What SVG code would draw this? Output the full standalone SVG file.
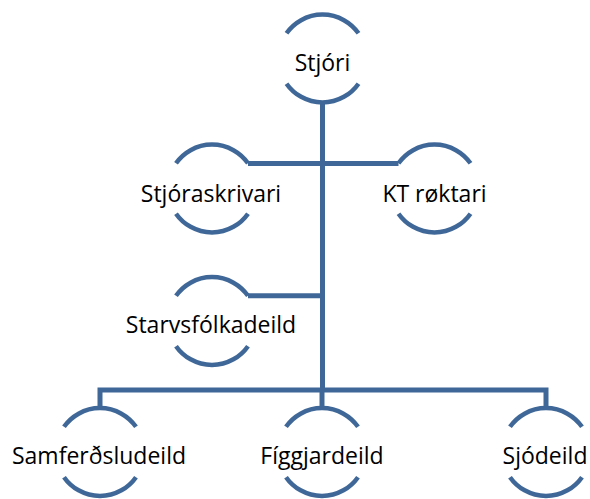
<svg xmlns="http://www.w3.org/2000/svg" width="590" height="499" viewBox="0 0 590 499">
<style>
.arc{fill:none;stroke:#3F6898;stroke-width:4.5}
.ln{fill:none;stroke:#3F6898;stroke-width:5}
text{font-family:"Open Sans","Liberation Sans",sans-serif;font-size:23px;fill:#000;text-anchor:middle}
</style>
<defs>
<g id="ring">
<path class="arc" d="M-36 -25.2A44 44 0 0 1 36 -25.2"/>
<path class="arc" d="M-36 25.2A44 44 0 0 0 36 25.2"/>
</g>
</defs>
<g id="connectors">
<path class="ln" d="M322.5 102V390"/>
<path class="ln" d="M248 163.5H398.5"/>
<path class="ln" d="M248 295.8H322.5"/>
<path class="ln" d="M100 408V390H546V408"/>
<path class="ln" d="M322 390V408"/>
</g>
<g id="stjori"><use href="#ring" x="322.5" y="58.5"/><text x="322.5" y="71">Stjóri</text></g>
<g id="stjoraskrivari"><use href="#ring" x="212" y="188.5"/><text x="211" y="202">Stjóraskrivari</text></g>
<g id="kt"><use href="#ring" x="434.5" y="188.5"/><text x="434.5" y="202">KT røktari</text></g>
<g id="starvsfolk"><use href="#ring" x="212" y="321"/><text x="211" y="333">Starvsfólkadeild</text></g>
<g id="samferdsl"><use href="#ring" x="100" y="452"/><text x="99" y="464">Samferðsludeild</text></g>
<g id="figgjar"><use href="#ring" x="322" y="452"/><text x="322" y="464">Fíggjardeild</text></g>
<g id="sjo"><use href="#ring" x="546" y="452"/><text x="545" y="464">Sjódeild</text></g>
</svg>
